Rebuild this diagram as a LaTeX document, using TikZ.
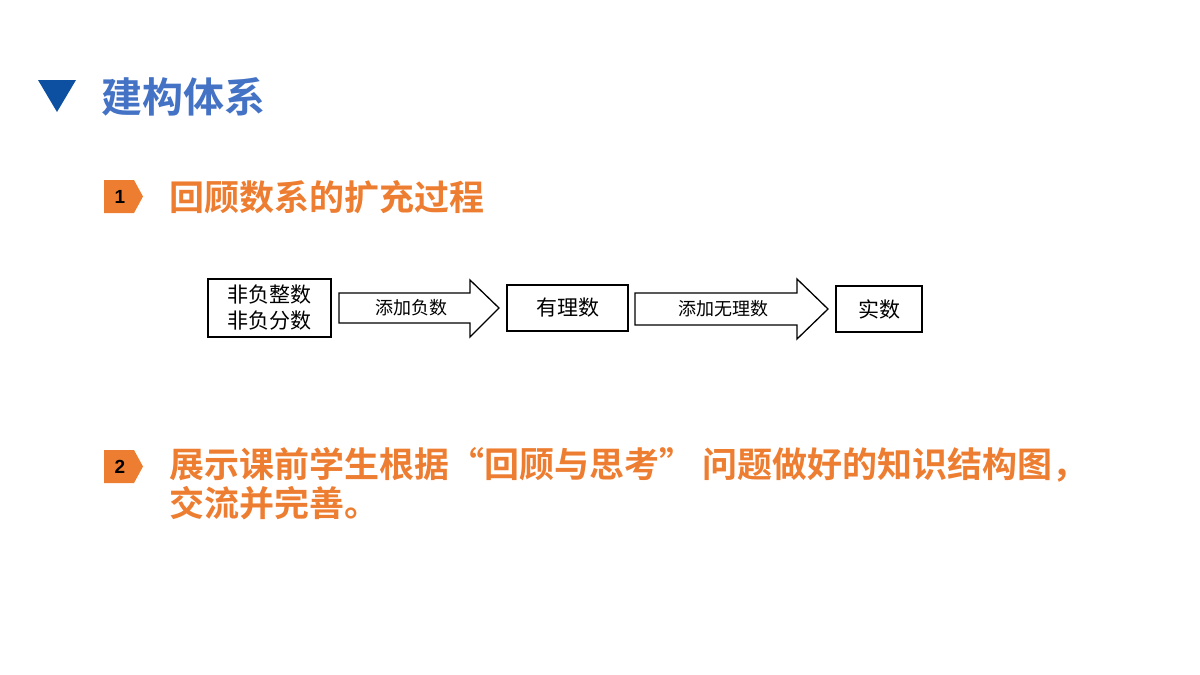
\documentclass[tikz,border=0pt]{standalone}
\usepackage{fontspec}
\newfontfamily\cjk{Noto Sans CJK SC}
\newfontfamily\cjkb{Noto Sans CJK SC Bold}
\newfontfamily\lsans{Liberation Sans}
\definecolor{tblue}{HTML}{0D4FA0}
\definecolor{ttext}{HTML}{4472C4}
\definecolor{org}{HTML}{ED7D31}
\begin{document}
\begin{tikzpicture}[x=1pt,y=-1pt,
  box/.style={draw,line width=1.3pt,inner sep=0pt,font=\cjk\fontsize{21}{26}\selectfont},
  fatarrow/.style={draw,line width=1.3pt,fill=white},
  head/.style={font=\cjkb\fontsize{35}{42}\selectfont,text=org,anchor=west,inner sep=0pt},
  num/.style={font=\lsans\bfseries\fontsize{19}{22}\selectfont,inner sep=0pt}]
\useasboundingbox (0,0) rectangle (1200,675);
\fill[tblue] (38,80) -- (76,80) -- (57,112) -- cycle;
\node[font=\cjkb\fontsize{41}{48}\selectfont,text=ttext,anchor=west,inner sep=0pt] (title) at (101,97) {建构体系};
% badge 1
\fill[org] (104,180) -- (134,180) -- (143,196.5) -- (134,213) -- (104,213) -- cycle;
\node[num] (b1) at (120,197) {1};
\node[head] (h1) at (169,197) {回顾数系的扩充过程};
% badge 2
\fill[org] (104,450) -- (134,450) -- (143,466.5) -- (134,483) -- (104,483) -- cycle;
\node[num] (b2) at (120,467) {2};
\node[head] (h2) at (169,465) {展示课前学生根据“回顾与思考” 问题做好的知识结构图，};
\node[head] (h3) at (169,503) {交流并完善。};
% diagram
\node[box,minimum width=123pt,minimum height=58pt,align=center] (n1) at (269.5,308) {非负整数\\[0pt]非负分数};
\draw[fatarrow] (339,293) -- (470,293) -- (470,280) -- (499,308) -- (470,337) -- (470,323) -- (339,323) -- cycle;
\node[font=\cjk\fontsize{18}{20}\selectfont] (a1) at (411,308) {添加负数};
\node[box,minimum width=121pt,minimum height=46pt] (n2) at (567.5,308) {有理数};
\draw[fatarrow] (635,293) -- (797,293) -- (797,279) -- (828,309) -- (797,339) -- (797,325) -- (635,325) -- cycle;
\node[font=\cjk\fontsize{18}{20}\selectfont] (a2) at (723,309) {添加无理数};
\node[box,minimum width=86pt,minimum height=46pt] (n3) at (879,309) {实数};
\end{tikzpicture}
\end{document}
